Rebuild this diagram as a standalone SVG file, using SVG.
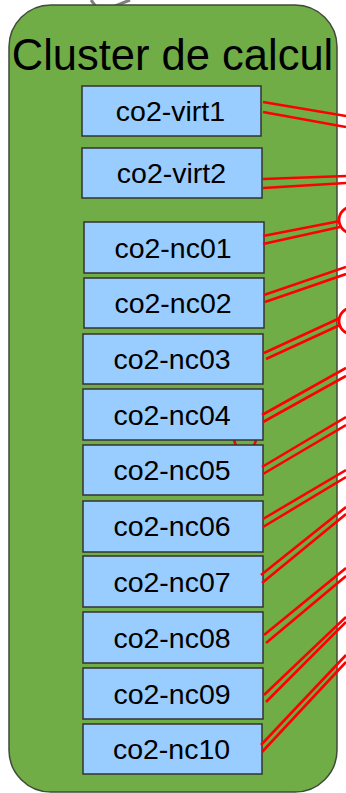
<svg xmlns="http://www.w3.org/2000/svg" width="346" height="793" viewBox="0 0 346 793">
  <style>
    .cluster { fill: #70ad47; stroke: #3f4a38; stroke-width: 1.5; }
    .title { font-family: "Liberation Sans", Arial, sans-serif; font-size: 43.5px; fill: #000; text-anchor: middle; }
    .node rect { fill: #99ccff; stroke: #333; stroke-width: 1.5; }
    .node text { font-family: "Liberation Sans", Arial, sans-serif; font-size: 28.5px; fill: #000; text-anchor: middle; }
    .link { stroke: #ff0000; stroke-width: 2.6; fill: none; }
    .ring { stroke: #ff0000; stroke-width: 2.8; fill: none; }
    .edge { stroke: #808080; stroke-width: 3; fill: none; }
  </style>

  <!-- incoming edge from above the cluster -->
  <polyline class="edge" points="91,0 100,12 130,0"/>

  <!-- cluster container -->
  <g id="cluster">
    <rect class="cluster" x="9" y="5" width="328" height="787" rx="42" ry="42"/>
    <text class="title" x="172.5" y="70">Cluster de calcul</text>
  </g>

  <!-- links hidden behind the nodes, visible in the gap -->
  <g id="hidden-links">
    <line class="link" x1="234" y1="440" x2="236" y2="446"/>
    <line class="link" x1="256" y1="440" x2="254" y2="446"/>
  </g>

  <!-- nodes -->
  <g id="co2-virt1" class="node"><rect x="82" y="86" width="179" height="50"/><text x="170.5" y="121">co2-virt1</text></g>
  <g id="co2-virt2" class="node"><rect x="82" y="148" width="180" height="50"/><text x="171.5" y="183">co2-virt2</text></g>
  <g id="co2-nc01" class="node"><rect x="84" y="222" width="180" height="51"/><text x="173" y="258">co2-nc01</text></g>
  <g id="co2-nc02" class="node"><rect x="84" y="278" width="180" height="50"/><text x="173" y="313">co2-nc02</text></g>
  <g id="co2-nc03" class="node"><rect x="83" y="334" width="180" height="50"/><text x="172" y="369">co2-nc03</text></g>
  <g id="co2-nc04" class="node"><rect x="83" y="389" width="180" height="51"/><text x="172" y="425">co2-nc04</text></g>
  <g id="co2-nc05" class="node"><rect x="83" y="445" width="180" height="50"/><text x="172" y="480">co2-nc05</text></g>
  <g id="co2-nc06" class="node"><rect x="83" y="501" width="180" height="51"/><text x="172" y="536">co2-nc06</text></g>
  <g id="co2-nc07" class="node"><rect x="83" y="556" width="180" height="51"/><text x="172" y="592">co2-nc07</text></g>
  <g id="co2-nc08" class="node"><rect x="83" y="612" width="180" height="51"/><text x="172" y="648">co2-nc08</text></g>
  <g id="co2-nc09" class="node"><rect x="83" y="668" width="180" height="51"/><text x="172" y="704">co2-nc09</text></g>
  <g id="co2-nc10" class="node"><rect x="83" y="724" width="179" height="50"/><text x="171.5" y="759">co2-nc10</text></g>

  <!-- connectors leaving the cluster -->
  <g id="connectors">
    <line class="link" x1="263" y1="102" x2="346" y2="116"/>
    <line class="link" x1="263" y1="112" x2="346" y2="127"/>
    <line class="link" x1="263" y1="179" x2="346" y2="176"/>
    <line class="link" x1="263" y1="188" x2="346" y2="183"/>
    <line class="link" x1="263" y1="236" x2="340" y2="221"/>
    <line class="link" x1="263" y1="244" x2="340" y2="227"/>
    <line class="link" x1="264" y1="295" x2="346" y2="267"/>
    <line class="link" x1="265" y1="302" x2="346" y2="274"/>
    <line class="link" x1="264" y1="353" x2="340" y2="318"/>
    <line class="link" x1="266" y1="359" x2="340" y2="325"/>
    <line class="link" x1="262" y1="415" x2="346" y2="368"/>
    <line class="link" x1="263" y1="422" x2="346" y2="376"/>
    <line class="link" x1="262" y1="467" x2="346" y2="417"/>
    <line class="link" x1="263" y1="474" x2="346" y2="425"/>
    <line class="link" x1="263" y1="519" x2="346" y2="470"/>
    <line class="link" x1="263" y1="527" x2="346" y2="477"/>
    <line class="link" x1="261" y1="575" x2="346" y2="507"/>
    <line class="link" x1="262" y1="583" x2="346" y2="514"/>
    <line class="link" x1="264" y1="635" x2="346" y2="568"/>
    <line class="link" x1="266" y1="643" x2="346" y2="576"/>
    <line class="link" x1="264" y1="695" x2="346" y2="617"/>
    <line class="link" x1="266" y1="702" x2="346" y2="622"/>
    <line class="link" x1="261" y1="745" x2="346" y2="655"/>
    <line class="link" x1="262" y1="752" x2="346" y2="662"/>
    <circle class="ring" cx="352" cy="220" r="13"/>
    <circle class="ring" cx="352" cy="321" r="13"/>
  </g>
</svg>
